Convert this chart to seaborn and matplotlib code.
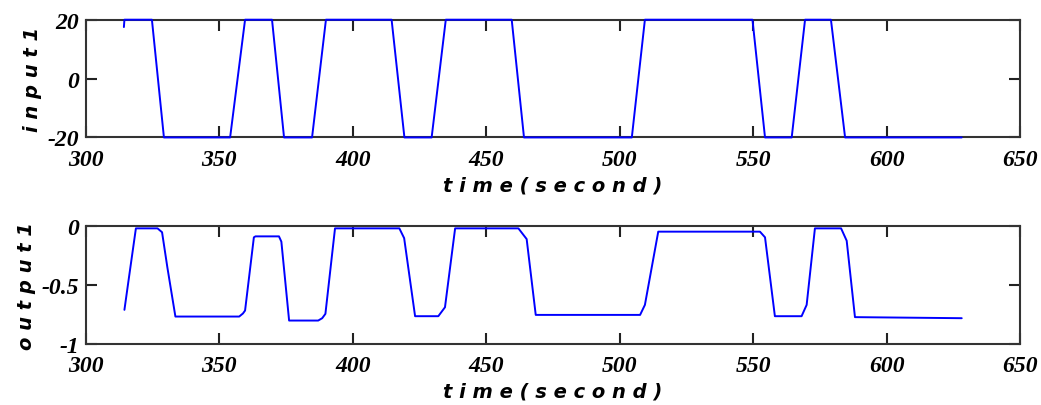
import matplotlib
matplotlib.use("Agg")
import matplotlib.pyplot as plt
import seaborn as sns
import pandas as pd

# ---- data ----
t_in = [314.2, 314.4, 324.7, 329.2, 354.0, 359.6, 369.7, 374.2, 384.7, 389.9,
        414.5, 419.3, 429.5, 434.8, 459.5, 464.1, 504.5, 509.4, 549.7, 554.4,
        564.4, 569.4, 579.1, 584.4, 628.1]
input1 = [17.5, 20, 20, -20, -20, 20, 20, -20, -20, 20,
          20, -20, -20, 20, 20, -20, -20, 20, 20, -20,
          -20, 20, 20, -20, -20]

t_out = [314.4, 316.0, 318.7, 326.8, 328.5, 330.5, 333.5, 357.4, 358.8, 359.6,
         362.9, 363.5, 372.3, 373.2, 376.1, 387.0, 388.5, 389.7, 393.3, 417.4,
         419.2, 423.3, 432.0, 434.5, 438.3, 462.0, 465.1, 468.5, 507.6, 509.4,
         514.4, 552.5, 554.4, 558.1, 568.1, 570.0, 573.1, 582.9, 585.0, 588.1,
         628.1]
output1 = [-0.709, -0.45, -0.017, -0.017, -0.05, -0.35, -0.766, -0.766, -0.74, -0.715,
           -0.093, -0.085, -0.085, -0.13, -0.80, -0.80, -0.78, -0.743, -0.017, -0.017,
           -0.10, -0.763, -0.763, -0.687, -0.017, -0.017, -0.108, -0.752, -0.752, -0.667,
           -0.045, -0.045, -0.093, -0.763, -0.763, -0.667, -0.017, -0.017, -0.122, -0.771,
           -0.78]

x_ticks = [300, 350, 400, 450, 500, 550, 600, 650]
in_ticks = [-20, 0, 20]
out_ticks = [-1, -0.5, 0]
out_tick_labels = ["-1", "-0.5", "0"]

sns.set_theme(style="white")
plt.rcParams["axes.unicode_minus"] = False

fig = plt.figure(figsize=(10.41, 4.06), dpi=100)
ax1 = fig.add_axes([0.0826, 0.659, 0.8974, 0.290])
ax2 = fig.add_axes([0.0826, 0.150, 0.8974, 0.290])

df_in = pd.DataFrame({"t": t_in, "v": input1})
df_out = pd.DataFrame({"t": t_out, "v": output1})
sns.lineplot(data=df_in, x="t", y="v", ax=ax1, color="#0000ff", linewidth=1.4,
             sort=False, estimator=None)
sns.lineplot(data=df_out, x="t", y="v", ax=ax2, color="#0000ff", linewidth=1.4,
             sort=False, estimator=None)
for ax in (ax1, ax2):
    for ln in ax.lines:
        ln.set_zorder(5)
        ln.set_clip_on(False)

tick_font = dict(family="Liberation Serif", weight="bold", style="italic", size=17)
lab_font = dict(family="DejaVu Sans", weight="bold", style="italic", size=14,
                color="black")

for ax, yt, ylim, ylabs, ylab in [
        (ax1, in_ticks, (-20, 20), [str(v) for v in in_ticks], "i n p u t 1"),
        (ax2, out_ticks, (-1, 0), out_tick_labels, "o u t p u t 1")]:
    ax.set_xlim(300, 650)
    ax.set_ylim(*ylim)
    ax.set_xticks(x_ticks)
    ax.set_xticklabels([str(v) for v in x_ticks], fontdict=tick_font)
    ax.set_yticks(yt)
    ax.set_yticklabels(ylabs, fontdict=tick_font)
    ax.tick_params(direction="in", length=8, width=1.5, top=True, right=True,
                   bottom=True, left=True, colors="#222222", pad=5,
                   labelcolor="black")
    ax.tick_params(axis="x", pad=8)
    for s in ax.spines.values():
        s.set_color("#333333")
        s.set_linewidth(1.5)
        s.set_visible(True)
        s.set_zorder(2)
    ax.set_xlabel("t i m e ( s e c o n d )", fontdict=lab_font, labelpad=4)
    ax.set_ylabel(ylab, fontdict=lab_font, labelpad=4)
    ax.grid(False)

fig.savefig("out.png", dpi=100)
